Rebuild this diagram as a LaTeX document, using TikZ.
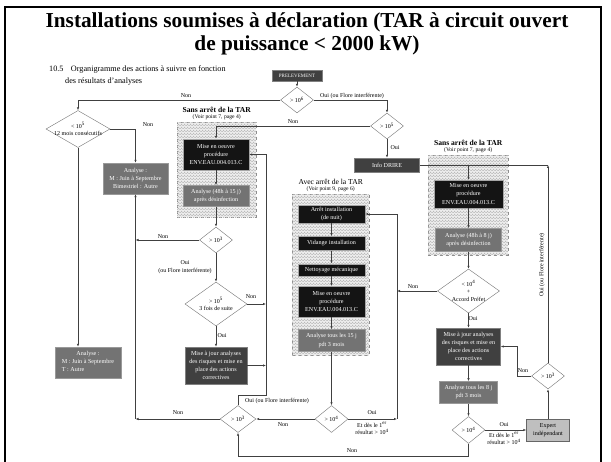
\documentclass[tikz,border=0pt]{standalone}
\usepackage{fontspec}
\setmainfont{Liberation Serif}
\usepackage{tikz}
\usetikzlibrary{positioning, arrows.meta, calc, shapes.geometric, patterns}

\begin{document}
\begin{tikzpicture}[x=1pt, y=-1pt, >={Latex[length=3pt, width=2.4pt]}]

	\tikzstyle{grp}=[draw=black!45, dashed, fill=black!5, postaction={pattern=crosshatch, pattern color=black!27}, inner sep=0, anchor=north west];
	\tikzstyle{blk}=[draw=black!35, fill=black!92, text=white, align=center, font=\fontsize{6.1}{8.2}\selectfont, inner sep=1pt];
	\tikzstyle{dkg}=[blk, fill=black!75, draw=black!50];
	\tikzstyle{gry}=[blk, fill=black!55, draw=black!40];
	\tikzstyle{dia}=[draw=black!55, fill=white, diamond, aspect=1.3, inner sep=0, align=center, font=\fontsize{6}{7.5}\selectfont];
	\tikzstyle{lbl}=[font=\fontsize{6}{7.5}\selectfont, inner sep=1pt, align=center];
	\tikzstyle{ttl}=[font=\fontsize{7.6}{9}\selectfont\bfseries, inner sep=0.5pt];
	\tikzstyle{ref}=[font=\fontsize{5.6}{7}\selectfont, inner sep=0.5pt];
	\tikzstyle{lnk}=[draw=black!75, line width=0.6pt];

	\useasboundingbox (0,0) rectangle (611,462);
	\draw [line width=1.6pt] (5,462) -- (5,7) -- (601,7) -- (601,462);

	\node (title) [font=\fontsize{21.3}{23}\selectfont\bfseries, align=center] at (307,33.5) {Installations soumises à déclaration (TAR à circuit ouvert\\de puissance < 2000 kW)};
	\node (intro) [anchor=north west, font=\fontsize{8.2}{12}\selectfont, align=left, inner sep=0] at (49,65.5) {10.5\hspace{0.9em}Organigramme des actions à suivre en fonction\\\hspace*{1.95em}des résultats d'analyses};

	% groups
	\node (sa box) [grp, minimum width=79, minimum height=95] at (177,122) {};
	\node (sa note) [ref, above=1.5pt of sa box.north] {(Voir point 7, page 4)};
	\node (sa label) [ttl, above=0.5pt of sa note] {Sans arrêt de la TAR};

	\node (av box) [grp, minimum width=77, minimum height=161] at (292,194) {};
	\node (av note) [ref, above=1.5pt of av box.north] {(Voir point 9, page 6)};
	\node (av label) [ttl, font=\fontsize{7.6}{9}\selectfont, above=0.5pt of av note] {Avec arrêt de la TAR};

	\node (sb box) [grp, minimum width=80, minimum height=100] at (428,155) {};
	\node (sb note) [ref, above=1.5pt of sb box.north] {(Voir point 7, page 4)};
	\node (sb label) [ttl, above=0.5pt of sb note] {Sans arrêt de la TAR};

	% top
	\node (pre) [dkg, font=\fontsize{5}{6}\selectfont, minimum width=50, minimum height=11] at (297,75.5) {PRELEVEMENT};
	\node (d1) [dia, minimum width=33, minimum height=26] at (297,100) {> 10\textsuperscript{6}};
	\node (d2) [dia, minimum width=33, minimum height=26] at (387,126) {> 10\textsuperscript{5}};
	\node (drire) [dkg, minimum width=65, minimum height=14] at (387,165) {Info DRIRE};

	% left
	\node (d3) [dia, aspect=1.75, inner sep=-2.5pt, minimum width=64, minimum height=37] at (78,129) {< 10\textsuperscript{5}\\12 mois consécutifs};
	\node (ana1) [gry, align=center, minimum width=65, minimum height=31] at (135.5,178.5) {Analyse :\\M : Juin à Septembre\\Bimestriel : Autre};
	\node (ana2) [gry, minimum width=66, minimum height=31] at (88,362.5) {Analyse :\\[-0.5pt]\begin{tabular}{@{}l@{}}M : Juin à Septembre\\T : Autre\end{tabular}};

	% sans arret, left column
	\node (misea) [blk, minimum width=66, minimum height=31] at (216,154.5) {Mise en oeuvre\\procédure\\ENV.EAU.004.013.C};
	\node (anaa) [gry, minimum width=66, minimum height=21, below=15pt of misea] {Analyse (48h à 15 j)\\après désinfection};
	\node (d4) [dia, minimum width=33, minimum height=26] at (216,240) {> 10\textsuperscript{3}};
	\node (d5) [dia, aspect=1.4, inner sep=-1pt, minimum width=62, minimum height=44] at (216,304) {> 10\textsuperscript{5}\\3 fois de suite};
	\node (majA) [dkg, minimum width=62, minimum height=37] at (216,365.5) {Mise à jour analyses\\des risques et mise en\\place des actions\\correctives};
	\node (d6) [dia, minimum width=36, minimum height=27] at (238,419) {> 10\textsuperscript{3}};

	% avec arret
	\node (arret) [blk, minimum width=67, minimum height=18] at (331.5,214) {Arrêt installation\\(de nuit)};
	\node (vid) [blk, minimum width=67, minimum height=14, below=13pt of arret] {Vidange installation};
	\node (net) [blk, minimum width=67, minimum height=12, below=13pt of vid] {Nettoyage mécanique};
	\node (miseb) [blk, minimum width=67, minimum height=31, below=10pt of net] {Mise en oeuvre\\procédure\\ENV.EAU.004.013.C};
	\node (anab) [gry, minimum width=67, minimum height=22, below=12pt of miseb] {Analyse tous les 15 j\\pdt 3 mois};
	\node (d7) [dia, minimum width=33, minimum height=27] at (331.5,419) {> 10\textsuperscript{4}};

	% sans arret, right column
	\node (misec) [blk, minimum width=69, minimum height=28] at (468.5,194) {Mise en oeuvre\\procédure\\ENV.EAU.004.013.C};
	\node (anac) [gry, minimum width=66, minimum height=23, below=20pt of misec] {Analyse (48h à 8 j)\\après désinfection};
	\node (d8) [dia, aspect=1.4, inner sep=-3pt, minimum width=62, minimum height=44] at (468.5,291) {< 10\textsuperscript{4}\\+\\Accord Préfet};
	\node (majc) [dkg, minimum width=64, minimum height=37] at (468.5,346.5) {Mise à jour analyses\\des risques et mise en\\place des actions\\correctives};
	\node (anad) [gry, minimum width=58, minimum height=22, below=16pt of majc] {Analyse tous les 8 j\\pdt 3 mois};
	\node (d9) [dia, minimum width=33, minimum height=27] at (468.5,430) {> 10\textsuperscript{4}};
	\node (expert) [blk, fill=black!25, draw=black!60, text=black, minimum width=43, minimum height=22] at (548,430) {Expert\\indépendant};
	\node (d10) [dia, minimum width=33, minimum height=26] at (548,376) {> 10\textsuperscript{3}};

	\coordinate (rt) at (d10.north |- drire.east);
	\coordinate (rv) at (397,419);
	\coordinate (lv) at (135.5,419);
	\coordinate (mv) at (266,395);
	\coordinate (bt) at (468.5,456);

	% connectors
	\draw [lnk, ->] (pre) -- (d1);
	\draw [lnk, ->] (d1.east) -| (d2.north);
	\draw [lnk, ->] (d1.west) -| (d3.north);
	\draw [lnk, ->] (d2.west) -| (misea.north);
	\draw [lnk, ->] (d2) -- (drire);
	\draw [lnk, ->] (d10.north) -- (rt);
	\draw [lnk] (rt) -- (drire.east);
	\draw [lnk, ->] (misec.north |- drire.east) -- (misec.north);
	\draw [lnk, ->] (misec) -- (anac);
	\draw [lnk, ->] (anac) -- (d8);
	\draw [lnk, ->] (d8.west) -- (d8.west -| rv);
	\draw [lnk, ->] (d7.east) -- (rv);
	\draw [lnk, ->] (rv) |- (arret.east);
	\draw [lnk, ->] (arret) -- (vid);
	\draw [lnk, ->] (vid) -- (net);
	\draw [lnk, ->] (net) -- (miseb);
	\draw [lnk, ->] (miseb) -- (anab);
	\draw [lnk, ->] (anab) -- (d7);
	\draw [lnk, ->] (d7.west) -- (d6.east);
	\draw [lnk, ->] (d6.west) -- (lv);
	\draw [lnk, ->] (lv) -- (ana1.south);
	\draw [lnk, ->] (d3.east) -| (ana1.north);
	\draw [lnk, ->] (d3.south) -- (d3.south |- ana2.north);
	\draw [lnk, ->] (d4.west) -- (d4.west -| lv);
	\draw [lnk, ->] (misea) -- (anaa);
	\draw [lnk, ->] (anaa) -- (d4);
	\draw [lnk, ->] (d4) -- (d5);
	\draw [lnk, ->] (d5) -- (majA);
	\draw [lnk, ->] (d5.east) -- (d5.east -| mv);
	\draw [lnk, ->] (majA.east) -- (majA.east -| mv);
	\draw [lnk, ->] (d6.north) |- (mv) |- (misea.east);
	\draw [lnk, ->] (d8) -- (majc);
	\draw [lnk, ->] (majc) -- (anad);
	\draw [lnk, ->] (anad) -- (d9);
	\draw [lnk, ->] (d9) -- (expert);
	\draw [lnk, ->] (expert) -- (d10);
	\draw [lnk, ->] (d10.west) -- ++(-14,0) |- (majc.east);
	\draw [lnk, ->] (d9.south) -- (bt) -| (d6.south);

	% connector labels
	\node (d1 oui) [lbl] at (352,96) {Oui (ou Flore interférente)};
	\node (d1 non) [lbl] at (186,95.5) {Non};
	\node (d2 non) [lbl] at (293,121.5) {Non};
	\node (d2 oui) [lbl] at (395,148) {Oui};
	\node (d3 non) [lbl] at (148,125) {Non};
	\node (d4 non) [lbl] at (163,236.5) {Non};
	\node (d4 oui) [lbl] at (185,267) {Oui\\(ou Flore interférente)};
	\node (d5 non) [lbl] at (251,297) {Non};
	\node (d5 oui) [lbl] at (222,336) {Oui};
	\node (d6 oui) [lbl] at (277,401) {Oui (ou Flore interférente)};
	\node (d6 non) [lbl] at (178,413) {Non};
	\node (d7 non) [lbl] at (283,425) {Non};
	\node (d7 oui) [lbl] at (372,413) {Oui};
	\node (d7 des) [lbl] at (372,428.5) {Et dès le 1\textsuperscript{er}\\résultat > 10\textsuperscript{4}};
	\node (d8 non) [lbl] at (413,287) {Non};
	\node (d8 oui) [lbl] at (473,319) {Oui};
	\node (d9 oui) [lbl] at (504,425) {Oui};
	\node (d9 des) [lbl] at (504,438.5) {Et dès le 1\textsuperscript{er}\\résultat > 10\textsuperscript{4}};
	\node (d9 non) [lbl] at (352,451) {Non};
	\node (d10 non) [lbl] at (523,371) {Non};
	\node (d10 oui) [lbl, rotate=90] at (542,265) {Oui (ou Flore interférente)};

\end{tikzpicture}
\end{document}
